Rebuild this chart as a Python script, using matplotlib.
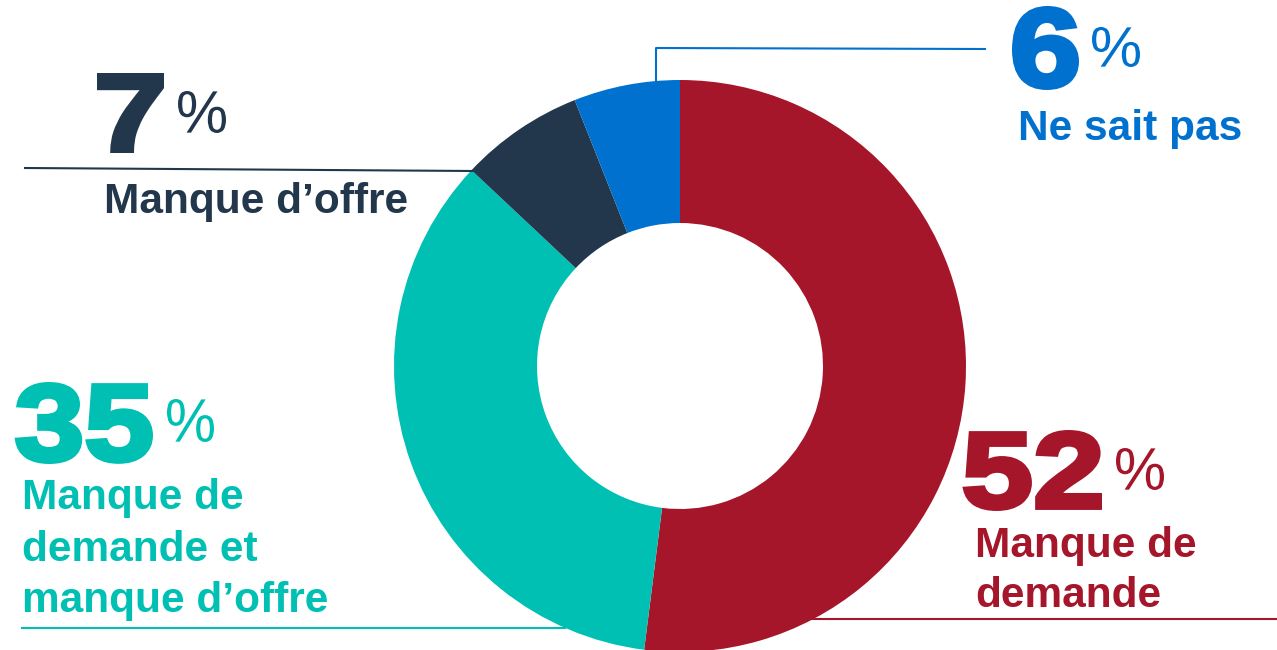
import matplotlib
matplotlib.use("Agg")
import matplotlib.pyplot as plt
from matplotlib.textpath import TextPath
from matplotlib.patches import PathPatch
from matplotlib.font_manager import FontProperties
from matplotlib.transforms import Affine2D

# donnees
categories = ["Manque de demande", "Manque de demande et manque d’offre", "Manque d’offre", "Ne sait pas"]
values = [52, 35, 7, 6]
colors = ["#A6162B", "#00C0B3", "#22374B", "#0071CE"]
pct_labels = ["52", "35", "7", "6"]

W, H = 1277, 650
plt.rcParams['font.family'] = ['Liberation Sans', 'DejaVu Sans']

fig = plt.figure(figsize=(W / 100, H / 100), dpi=100)
ax = fig.add_axes([0, 0, 1, 1])

# donut (coordonnees en pixels, y vers le haut)
cx, cy, r = 680, H - 366, 286
ax.pie(values, colors=colors, startangle=90, counterclock=False,
       center=(cx, cy), radius=r,
       wedgeprops=dict(width=r * 0.5, linewidth=0))
ax.set_xlim(0, W)
ax.set_ylim(0, H)
ax.set_aspect('equal')
ax.axis('off')


def Y(y):
    return H - y


# lignes de rappel
ax.plot([656, 656, 985], [Y(82), Y(48), Y(49)], color=colors[3], lw=1.5)
ax.plot([25, 474], [Y(168), Y(171)], color=colors[2], lw=1.5)
ax.plot([22, 565], [Y(628), Y(628)], color=colors[1], lw=1.5)
ax.plot([810, W], [Y(619), Y(619)], color=colors[0], lw=1.5)

bold = FontProperties(family='Liberation Sans', weight='bold')
regular = FontProperties(family='Liberation Sans')


def fit(txt, box, col, prop, lw=0.0):
    # place le texte (en chemin) dans la boite x0, y0, x1, y1 (pixels, y vers le bas)
    x0, y0, x1, y1 = box
    pad = lw * 100 / 72 / 2
    tp = TextPath((0, 0), txt, size=100, prop=prop)
    ext = tp.get_extents()
    sx = (x1 - x0 - 2 * pad) / ext.width
    sy = (y1 - y0 - 2 * pad) / ext.height
    tr = Affine2D().translate(-ext.x0, -ext.y0).scale(sx, sy).translate(x0 + pad, Y(y1) + pad)
    ax.add_patch(PathPatch(tr.transform_path(tp), facecolor=col,
                           edgecolor=col if lw else 'none', lw=lw))


def label(x, y, txt, col):
    ax.text(x, Y(y), txt, fontsize=30.5, fontweight='bold', color=col,
            ha='left', va='baseline')


# 6 % Ne sait pas
fit(pct_labels[3], (1012, 6, 1079, 90), colors[3], bold, 3.5)
fit("%", (1092, 27, 1140, 67), colors[3], regular)
label(1018, 140, "Ne sait pas", colors[3])

# 7 % Manque d'offre
fit(pct_labels[2], (97, 73, 164, 153), colors[2], bold, 3.5)
fit("%", (178, 91, 226, 133), colors[2], regular)
label(104, 213, "Manque d’offre", colors[2])

# 35 %
fit(pct_labels[1], (15, 382, 153, 464), colors[1], bold, 3.5)
fit("%", (167, 399, 214, 442), colors[1], regular)
for yy, line in zip([509, 561, 612], ["Manque de", "demande et", "manque d’offre"]):
    label(22, yy, line, colors[1])

# 52 %
fit(pct_labels[0], (963, 430, 1102, 511), colors[0], bold, 3.5)
fit("%", (1116, 448, 1164, 490), colors[0], regular)
for yy, line in zip([557, 607], ["Manque de", "demande"]):
    label(975, yy, line, colors[0])

fig.savefig("out.png", dpi=100)
